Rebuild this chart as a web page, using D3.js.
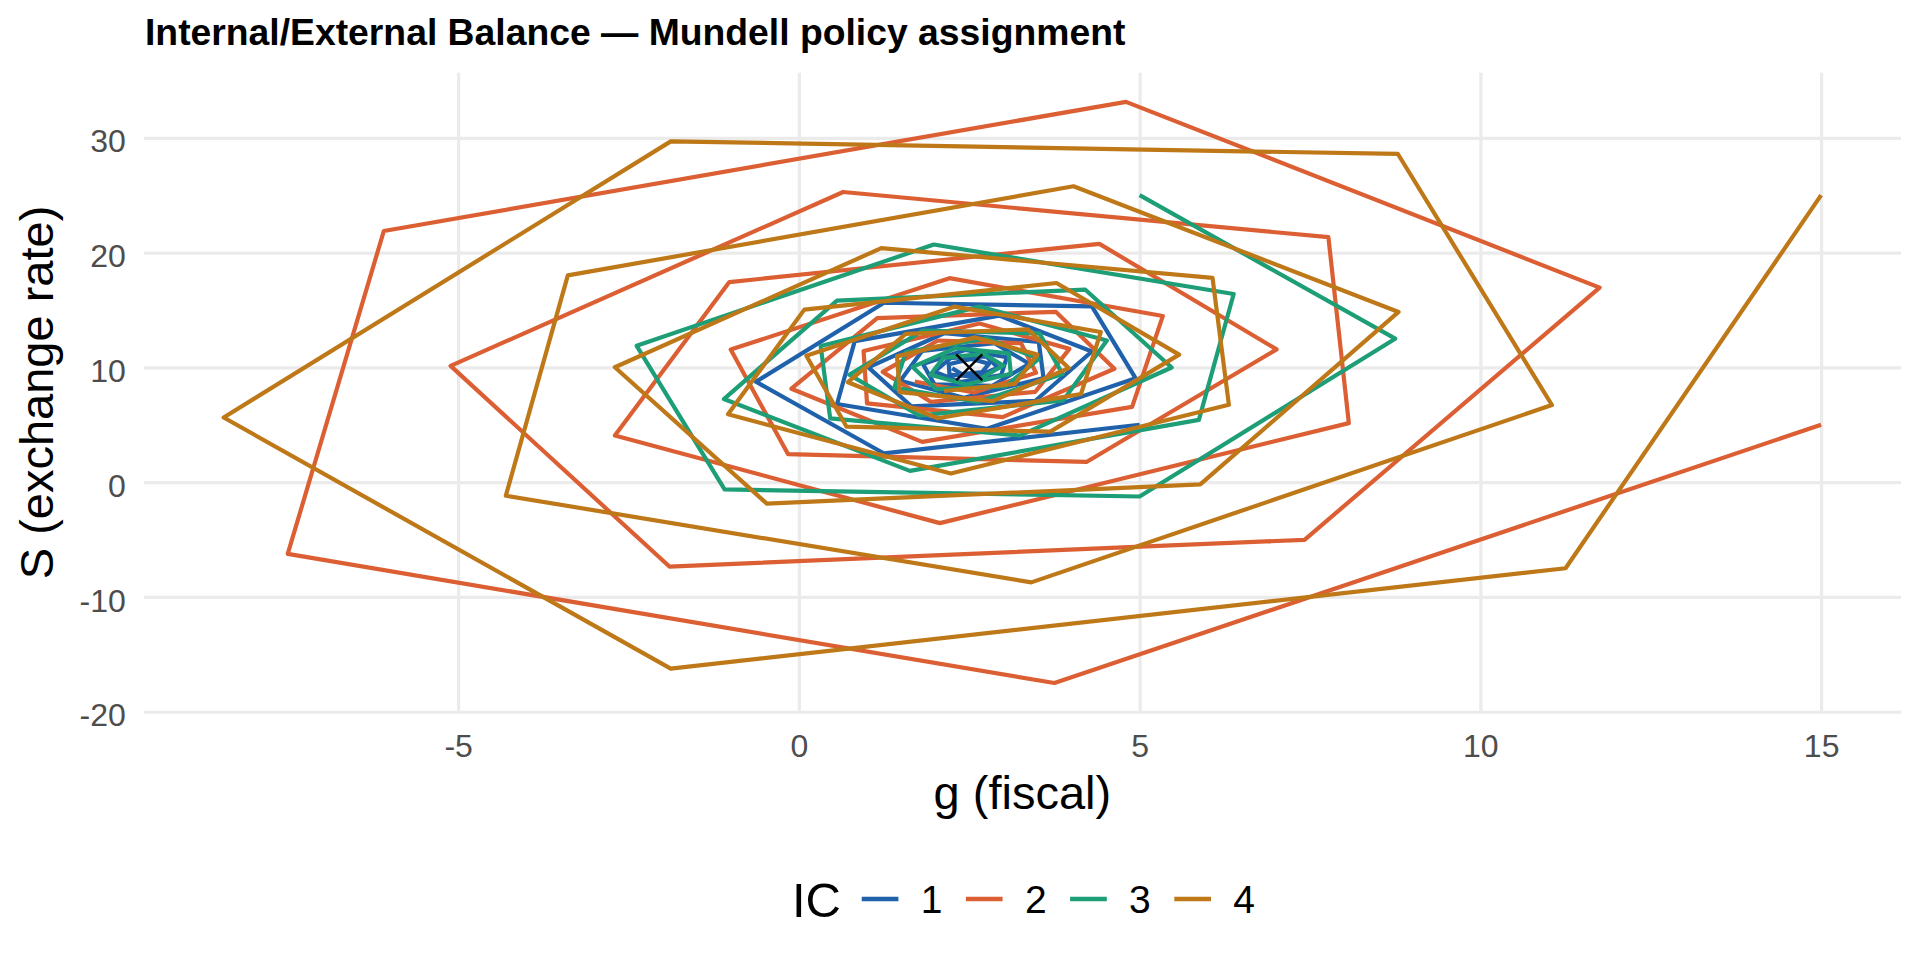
<!DOCTYPE html>
<html>
<head>
<meta charset="utf-8">
<script src="https://cdn.jsdelivr.net/npm/d3@7"></script>
<style>
  body { margin: 0; background: #fff; }
  text { font-family: "Liberation Sans", Arial, Helvetica, sans-serif; }
</style>
</head>
<body>
<div id="chart"></div>
<script>
// spiral paths of (g, S) for each initial condition
var ic1G = [5, 1.25, -0.63, 1.25, 4.30, 4.94, 2.76, 0.56, 0.82, 2.94, 4.30, 3.47, 1.65, 1.02, 2.13, 3.52, 3.59, 2.42, 1.49, 1.81, 2.87, 3.38, 2.84, 1.99, 1.82, 2.44, 3.05, 2.97, 2.37, 1.99, 2.23, 2.75, 2.92, 2.60, 2.21, 2.20, 2.53, 2.79, 2.69, 2.39, 2.25];
var ic1S = [5, 2.5, 8.75, 15.63, 15.31, 9.06, 4.65, 6.81, 12.29, 14.51, 11.38, 7.09, 6.61, 10.00, 12.97, 12.22, 9.07, 7.36, 8.83, 11.44, 12.10, 10.32, 8.40, 8.52, 10.29, 11.51, 10.88, 9.34, 8.73, 9.63, 10.83, 10.95, 9.98, 9.16, 9.38, 10.27, 10.74, 10.32, 9.59, 9.41, 9.92];

var ic2G = [15, 3.75, -7.5, -6.09, 4.80, 11.75, 7.42, -1.90, -5.11, 0.65, 7.77, 8.07, 2.07, -2.70, -1.02, 4.41, 7.01, 4.22, -0.16, -1.00, 2.21, 5.34, 4.89, 1.81, -0.11, 1.15, 3.77, 4.63, 2.99, 1.00, 0.95, 2.65, 3.97, 3.47, 1.94, 1.23, 2.04, 3.26, 3.48, 2.57, 1.70];
var ic2S = [5, -17.5, -6.25, 21.88, 33.13, 16.95, -5.02, -7.35, 10.13, 25.28, 21.34, 5.14, -3.57, 4.07, 17.43, 20.76, 11.57, 1.76, 2.45, 11.55, 17.77, 14.47, 6.56, 3.51, 8.14, 14.29, 14.84, 9.88, 5.67, 6.86, 11.43, 13.82, 11.61, 7.87, 6.99, 9.61, 12.34, 12.10, 9.53, 7.81, 8.77];

var ic3G = [5, 8.75, 5.0, -1.09, -2.38, 1.98, 6.38, 5.87, 1.63, -1.10, 0.56, 4.20, 5.47, 3.24, 0.46, 0.32, 2.65, 4.52, 3.88, 1.77, 0.74, 1.82, 3.53, 3.87, 2.62, 1.40, 1.57, 2.76, 3.52, 3.03, 2.01, 1.67, 2.30, 3.08, 3.11, 2.45, 1.93, 2.12, 2.71, 3.00, 2.68];
var ic3S = [25, 12.5, -1.25, -0.63, 11.88, 20.70, 16.39, 5.43, 0.98, 7.24, 15.82, 16.78, 9.99, 4.06, 5.55, 11.86, 15.29, 12.34, 7.13, 5.80, 9.36, 13.20, 12.96, 9.42, 6.98, 8.24, 11.33, 12.53, 10.74, 8.34, 8.11, 10.04, 11.68, 11.23, 9.45, 8.51, 9.36, 10.83, 11.18, 10.16, 9.09];

var ic4G = [15, 11.25, -1.88, -8.44, -1.88, 8.79, 11.05, 3.41, -4.30, -3.39, 4.03, 8.80, 5.89, -0.47, -2.70, 1.21, 6.07, 6.31, 2.23, -1.04, 0.08, 3.78, 5.58, 3.69, 0.70, 0.11, 2.28, 4.43, 4.14, 2.04, 0.72, 1.57, 3.36, 3.96, 2.84, 1.48, 1.44, 2.59, 3.50, 3.17, 2.13];
var ic4S = [25, -7.5, -16.25, 5.63, 29.69, 28.59, 6.72, -8.73, -1.18, 18.01, 25.78, 14.83, -0.19, -1.87, 10.01, 20.39, 17.79, 6.74, 0.75, 5.91, 15.03, 17.35, 11.11, 4.40, 4.83, 11.02, 15.29, 13.08, 7.68, 5.57, 8.71, 12.91, 13.31, 9.94, 7.06, 7.85, 10.96, 12.61, 11.11, 8.56, 7.94];

var icLabels = ["1", "2", "3", "4"];
var icColors = ["#1F62AB", "#DC5F33", "#1D9E77", "#BE7818"];
var equilibrium = [2.5, 10];

var xTicks = [-5, 0, 5, 10, 15];
var yTicks = [-20, -10, 0, 10, 20, 30];

var series = [[ic1G, ic1S], [ic2G, ic2S], [ic3G, ic3S], [ic4G, ic4S]].map(function(gs, i) {
    return {
        ic: icLabels[i],
        color: icColors[i],
        points: gs[0].map(function(g, j) { return {g: g, s: gs[1][j]}; })
    };
});

var W = 1920, H = 960;
var panel = {left: 143.8, right: 1901, top: 72.8, bottom: 712.1};

var svg = d3.select("#chart")
    .append("svg")
    .attr("width", W)
    .attr("height", H);

svg.append("rect").attr("width", W).attr("height", H).attr("fill", "#fff");

// ggplot-like 5% expansion
function expand(ext) {
    var d = (ext[1] - ext[0]) * 0.05;
    return [ext[0] - d, ext[1] + d];
}
var allPts = d3.merge(series.map(function(s) { return s.points; }));

var x = d3.scaleLinear()
    .domain(expand(d3.extent(allPts, function(d) { return d.g; })))
    .range([panel.left, panel.right]);

var y = d3.scaleLinear()
    .domain(expand(d3.extent(allPts, function(d) { return d.s; })))
    .range([panel.bottom, panel.top]);

// grid + tick labels (plain hyphen for negatives, like R)
var fmt = function(d) { return String(d); };

var xAxis = svg.append("g")
    .attr("transform", "translate(0," + panel.bottom + ")")
    .call(d3.axisBottom(x).tickValues(xTicks).tickSize(-(panel.bottom - panel.top)).tickFormat(fmt));

var yAxis = svg.append("g")
    .attr("transform", "translate(" + panel.left + ",0)")
    .call(d3.axisLeft(y).tickValues(yTicks).tickSize(-(panel.right - panel.left)).tickFormat(fmt));

[xAxis, yAxis].forEach(function(ax) {
    ax.select(".domain").remove();
    ax.selectAll(".tick line").attr("stroke", "#EBEBEB").attr("stroke-width", 3.2);
    ax.selectAll(".tick text")
        .attr("fill", "#4D4D4D")
        .style("font-size", "32px")
        .style("font-family", "'Liberation Sans', Arial, sans-serif");
});
xAxis.selectAll(".tick text").attr("y", 45).attr("dy", 0);
yAxis.selectAll(".tick text").attr("x", -18).attr("dy", "0.44em");

// spirals
var line = d3.line()
    .x(function(d) { return x(d.g); })
    .y(function(d) { return y(d.s); });

svg.selectAll("path.spiral")
    .data(series)
    .enter()
    .append("path")
    .attr("class", "spiral")
    .attr("d", function(d) { return line(d.points); })
    .attr("fill", "none")
    .attr("stroke", function(d) { return d.color; })
    .attr("stroke-width", 4.2)
    .attr("stroke-linejoin", "round")
    .attr("stroke-linecap", "butt");

// equilibrium marker (x shape)
svg.append("g")
    .attr("transform", "translate(" + x(equilibrium[0]) + "," + y(equilibrium[1]) + ")")
    .selectAll("line")
    .data([[-13, -13, 13, 13], [-13, 13, 13, -13]])
    .enter()
    .append("line")
    .attr("x1", function(d) { return d[0]; })
    .attr("y1", function(d) { return d[1]; })
    .attr("x2", function(d) { return d[2]; })
    .attr("y2", function(d) { return d[3]; })
    .attr("stroke", "#000")
    .attr("stroke-width", 2.4);

// titles
svg.append("text")
    .attr("x", 145)
    .attr("y", 45)
    .style("font-size", "37.3px")
    .style("font-weight", "bold")
    .attr("fill", "#000")
    .text("Internal/External Balance \u2014 Mundell policy assignment");

svg.append("text")
    .attr("x", (panel.left + panel.right) / 2)
    .attr("y", 809)
    .attr("text-anchor", "middle")
    .style("font-size", "47px")
    .attr("fill", "#000")
    .text("g (fiscal)");

svg.append("text")
    .attr("transform", "translate(53," + (panel.top + panel.bottom) / 2 + ") rotate(-90)")
    .attr("text-anchor", "middle")
    .style("font-size", "47px")
    .attr("fill", "#000")
    .text("S (exchange rate)");

// legend
var legend = svg.append("g");
legend.append("text")
    .attr("x", 792)
    .attr("y", 917)
    .style("font-size", "49px")
    .attr("fill", "#000")
    .text("IC");

var item = legend.selectAll("g.item")
    .data(series)
    .enter()
    .append("g")
    .attr("class", "item")
    .attr("transform", function(d, i) { return "translate(" + (861.7 + i * 104.2) + ",0)"; });

item.append("line")
    .attr("x1", 0).attr("x2", 36.7)
    .attr("y1", 899).attr("y2", 899)
    .attr("stroke", function(d) { return d.color; })
    .attr("stroke-width", 4.3);

item.append("text")
    .attr("x", 59)
    .attr("y", 913)
    .style("font-size", "39px")
    .attr("fill", "#000")
    .text(function(d) { return d.ic; });
</script>
</body>
</html>
